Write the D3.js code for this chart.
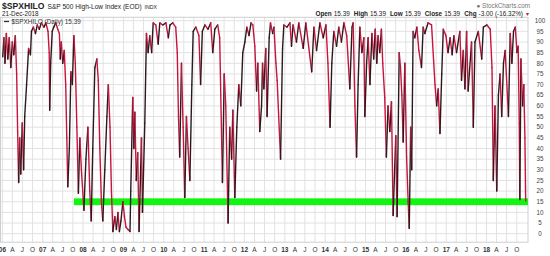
<!DOCTYPE html>
<html>
<head>
<meta charset="utf-8">
<script src="https://cdn.jsdelivr.net/npm/d3@7"></script>
<style>
  body { margin: 0; background: #fff; }
  svg { font-family: "Liberation Sans", Arial, sans-serif; display: block; }
</style>
</head>
<body>
<script>
const width = 550;
const height = 256;

// data (sparse, not daily)
const dates = [
  "2006-01-04","2006-01-15","2006-01-24","2006-02-06","2006-02-19","2006-03-04","2006-03-18","2006-04-01",
  "2006-04-14","2006-04-28","2006-05-10","2006-05-19","2006-05-28","2006-06-06","2006-06-16","2006-06-30",
  "2006-07-12","2006-07-22","2006-08-08","2006-08-26","2006-09-12","2006-09-21","2006-10-09","2006-10-27",
  "2006-11-13","2006-12-01","2006-12-20","2007-01-12","2007-01-30","2007-02-18","2007-03-01","2007-03-05",
  "2007-03-14","2007-03-28","2007-04-11","2007-04-29","2007-05-17","2007-06-01","2007-06-09","2007-06-18",
  "2007-07-01","2007-07-15","2007-07-28","2007-08-07","2007-08-16","2007-08-30","2007-09-13","2007-09-26",
  "2007-10-10","2007-10-23","2007-11-06","2007-11-20","2007-12-03","2007-12-17","2008-01-09","2008-01-27",
  "2008-02-14","2008-03-02","2008-03-15","2008-03-29","2008-04-17","2008-05-05","2008-05-18","2008-06-01",
  "2008-06-15","2008-06-28","2008-07-16","2008-08-04","2008-08-17","2008-09-01","2008-09-14","2008-09-27",
  "2008-10-15","2008-10-29","2008-11-12","2008-11-25","2008-12-09","2008-12-27","2009-01-10","2009-01-24",
  "2009-02-11","2009-03-01","2009-03-08","2009-03-26","2009-04-05","2009-04-14","2009-04-27","2009-05-10",
  "2009-05-22","2009-06-13","2009-06-22","2009-07-13","2009-07-28","2009-08-12","2009-08-27","2009-09-13",
  "2009-09-27","2009-10-21","2009-11-11","2009-11-26","2009-12-23","2010-01-20","2010-02-11","2010-02-26",
  "2010-03-23","2010-04-19","2010-05-03","2010-05-14","2010-05-25","2010-06-10","2010-06-25","2010-07-10",
  "2010-07-25","2010-08-09","2010-08-25","2010-09-12","2010-09-24","2010-10-18","2010-11-15","2010-11-30",
  "2010-12-16","2011-01-08","2011-02-05","2011-03-02","2011-03-20","2011-04-08","2011-05-04","2011-05-22",
  "2011-06-16","2011-07-02","2011-07-16","2011-08-06","2011-08-21","2011-09-07","2011-09-18","2011-10-06",
  "2011-10-24","2011-11-11","2011-11-29","2011-12-17","2012-01-05","2012-01-23","2012-02-11","2012-03-01",
  "2012-03-17","2012-04-04","2012-04-20","2012-05-01","2012-05-19","2012-06-04","2012-06-13","2012-06-25",
  "2012-07-12","2012-07-24","2012-08-12","2012-08-24","2012-09-12","2012-09-24","2012-10-12","2012-10-23",
  "2012-11-23","2012-12-11","2012-12-23","2013-01-20","2013-02-16","2013-03-02","2013-03-16","2013-04-16",
  "2013-05-07","2013-06-16","2013-07-10","2013-09-01","2013-09-21","2013-10-15","2013-11-14","2013-12-14",
  "2014-01-08","2014-01-26","2014-02-14","2014-03-02","2014-03-20","2014-04-14","2014-05-04","2014-05-28",
  "2014-06-19","2014-07-15","2014-08-12","2014-09-01","2014-09-11","2014-09-27","2014-10-12","2014-10-26",
  "2014-11-11","2014-11-29","2014-12-17","2014-12-26","2015-01-11","2015-01-25","2015-02-10","2015-02-28",
  "2015-03-16","2015-03-30","2015-04-13","2015-04-25","2015-05-10","2015-05-25","2015-06-06","2015-06-24",
  "2015-07-09","2015-07-24","2015-08-09","2015-08-24","2015-09-08","2015-10-02","2015-10-14","2015-11-02",
  "2015-11-14","2015-11-26","2015-12-08","2015-12-23","2016-01-08","2016-01-22","2016-02-01","2016-02-14",
  "2016-02-23","2016-03-07","2016-03-22","2016-04-10","2016-04-28","2016-05-22","2016-06-06","2016-06-21",
  "2016-07-21","2016-08-21","2016-09-21","2016-10-06","2016-10-20","2016-11-05","2016-11-21","2016-12-05",
  "2016-12-29","2017-01-17","2017-02-05","2017-02-23","2017-03-11","2017-04-04","2017-05-04","2017-05-19",
  "2017-06-04","2017-06-19","2017-07-04","2017-07-18","2017-08-18","2017-09-03","2017-09-18","2017-10-18",
  "2017-11-18","2017-12-03","2018-01-04","2018-02-03","2018-02-19","2018-03-03","2018-03-18","2018-04-03",
  "2018-04-18","2018-05-03","2018-05-18","2018-06-03","2018-06-18","2018-07-18","2018-08-03","2018-08-18",
  "2018-09-02","2018-09-18","2018-10-03","2018-10-14","2018-10-24","2018-10-29","2018-11-08","2018-11-23",
  "2018-12-04","2018-12-14","2018-12-21"
];

const hilo = [
  83,92,80,94,82,92,78,90,
  84,93,75,48,24,45,28,52,
  30,55,70,87,84,95,97,94,
  98,96,99,97,99,95,85,58,
  80,95,97,99,96,94,82,90,
  80,86,70,45,22,40,76,70,
  93,80,50,19,45,30,11,35,
  50,20,6,40,78,82,72,40,
  15,6,30,55,70,50,20,1,
  8,2,10,1,6,15,8,3,
  2,1,20,64,40,57,25,38,
  1,45,10,52,94,85,93,85,
  99,98,89,99,98,99,92,98,
  99,97,85,55,36,80,50,17,
  55,40,25,70,95,97,93,70,
  95,98,96,99,85,96,98,92,
  24,75,60,5,50,35,58,17,
  50,70,60,85,90,97,93,99,
  98,88,67,80,48,60,80,68,
  87,55,92,99,94,97,80,72,
  35,87,98,97,99,88,98,90,
  99,87,99,76,97,86,99,92,
  98,80,50,80,95,88,97,90,
  99,93,68,97,99,60,36,70,
  97,85,92,55,80,92,70,94,
  82,96,80,93,85,96,80,64,
  36,60,48,62,8.5,46,8,85,
  78,65,43,80,36,15,2.5,50,
  30,95,92,97,86,78,97,94,
  99,98,70,60,68,47,75,96,
  93,85,92,84,93,85,95,72,
  86,68,95,67,90,50,90,95,
  82,97,98,96,78,25,60,20,
  65,75,55,80,86,55,94,80,
  95,97,85,88,52,16,82,60,
  70,45,15.39
];

const bandStart = "2007-10-10";
const bandLow = 13.4;
const bandHigh = 16.6;

const yTicks = d3.range(0, 101, 5);
const quarterLabels = ["A", "J", "O"]; // Apr, Jul, Oct

const parse = d3.timeParse("%Y-%m-%d");
const series = dates.map((d, i) => ({ date: parse(d), value: hilo[i] }));

const svg = d3.select("body").append("svg")
  .attr("width", width)
  .attr("height", height);

const xScale = d3.scaleTime()
  .domain([new Date(2006, 0, 1), new Date(2019, 0, 1)])
  .range([2.4, 526.9]);

const yScale = d3.scaleLinear()
  .domain([0, 100])
  .range([233.7, 20.7]);

const plotLeft = 0.5, plotRight = 528;
const plotTop = yScale(101.6), plotBottom = yScale(-4);

// gridlines
const quarters = d3.timeMonth.every(3).range(new Date(2006, 0, 1), new Date(2019, 0, 1));
svg.append("g")
  .selectAll("line")
  .data(quarters)
  .join("line")
  .attr("x1", d => xScale(d)).attr("x2", d => xScale(d))
  .attr("y1", plotTop).attr("y2", plotBottom)
  .attr("stroke", "#e2e2e2")
  .attr("stroke-width", 1);

svg.append("g")
  .selectAll("line")
  .data(yTicks)
  .join("line")
  .attr("x1", plotLeft).attr("x2", plotRight)
  .attr("y1", d => yScale(d)).attr("y2", d => yScale(d))
  .attr("stroke", "#e2e2e2")
  .attr("stroke-width", 1);

svg.append("rect")
  .attr("x", plotLeft).attr("y", plotTop)
  .attr("width", plotRight - plotLeft).attr("height", plotBottom - plotTop)
  .attr("fill", "none")
  .attr("stroke", "#cfcfcf");

// green band at 15
svg.append("rect")
  .attr("x", xScale(parse(bandStart)))
  .attr("y", yScale(bandHigh))
  .attr("width", plotRight - xScale(parse(bandStart)))
  .attr("height", yScale(bandLow) - yScale(bandHigh))
  .attr("fill", "#12f512");

// line, black when rising, red when falling
const segs = d3.pairs(series);
svg.append("g")
  .selectAll("line")
  .data(segs)
  .join("line")
  .attr("x1", d => xScale(d[0].date)).attr("y1", d => yScale(d[0].value))
  .attr("x2", d => xScale(d[1].date)).attr("y2", d => yScale(d[1].value))
  .attr("stroke", d => d[1].value >= d[0].value ? "#2a1a1e" : "#c8143c")
  .attr("stroke-width", 1.4)
  .attr("stroke-linecap", "round");

// right axis labels
svg.append("g")
  .selectAll("text")
  .data(yTicks)
  .join("text")
  .attr("x", 540)
  .attr("y", d => yScale(d) + 2.2)
  .attr("text-anchor", "middle")
  .attr("font-size", 6.3)
  .attr("fill", "#444")
  .text(d => d);

// bottom axis labels
svg.append("g")
  .selectAll("text")
  .data(quarters)
  .join("text")
  .attr("x", d => xScale(d))
  .attr("y", 252)
  .attr("text-anchor", "middle")
  .attr("font-size", 6.5)
  .attr("font-weight", d => d.getMonth() === 0 ? "bold" : "normal")
  .attr("fill", "#333")
  .text(d => d.getMonth() === 0 ? d3.timeFormat("%y")(d) : quarterLabels[d.getMonth() / 3 - 1]);

// header
const head = svg.append("text").attr("x", 2).attr("y", 9).attr("fill", "#222");
head.append("tspan").attr("font-size", 8.6).attr("font-weight", "bold").text("$SPXHILO");
head.append("tspan").attr("font-size", 6.6).attr("dx", 3).text("S&P 500 High-Low Index (EOD)");
head.append("tspan").attr("font-size", 5.2).attr("dx", 3).text("INDX");

svg.append("text")
  .attr("x", 2).attr("y", 16)
  .attr("font-size", 6.3)
  .attr("fill", "#222")
  .text("21-Dec-2018");

svg.append("line")
  .attr("x1", 4).attr("x2", 9).attr("y1", 21.5).attr("y2", 21.5)
  .attr("stroke", "#333").attr("stroke-width", 1.3);
svg.append("text")
  .attr("x", 11.5).attr("y", 23.8)
  .attr("font-size", 6.4)
  .attr("fill", "#333")
  .text("$SPXHILO (Daily) 15.39");

svg.append("text")
  .attr("x", 530).attr("y", 8)
  .attr("text-anchor", "end")
  .attr("font-size", 6.3)
  .attr("fill", "#777")
  .text("\u25CF StockCharts.com");

const quote = svg.append("text")
  .attr("x", 523).attr("y", 16.3)
  .attr("text-anchor", "end")
  .attr("font-size", 6.4)
  .attr("fill", "#222");
const quoteParts = [["Open", "15.39"], ["High", "15.39"], ["Low", "15.39"], ["Close", "15.39"], ["Chg", "-3.00 (-16.32%)"]];
quoteParts.forEach((p, i) => {
  quote.append("tspan").attr("font-weight", "bold").attr("dx", i ? 4 : 0).text(p[0]);
  quote.append("tspan").attr("dx", 2).text(p[1]);
});
svg.append("text")
  .attr("x", 529).attr("y", 16.3)
  .attr("text-anchor", "end")
  .attr("font-size", 6)
  .attr("fill", "#c8143c")
  .text("\u25BE");
</script>
</body>
</html>
